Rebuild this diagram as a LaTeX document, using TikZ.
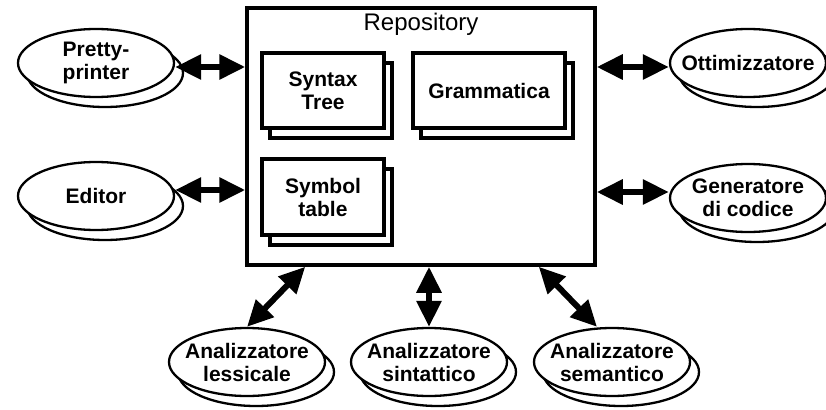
\documentclass[tikz,border=0pt]{standalone}
\usepackage{fontspec}
\setmainfont{Liberation Sans}
\usetikzlibrary{shapes.geometric,arrows.meta,shadows}
\begin{document}
\begin{tikzpicture}[x=1pt,y=-1pt,
  lbl/.style={font=\bfseries\fontsize{21}{23}\selectfont, align=center},
  store/.style={lbl, draw, line width=3.5pt, fill=white, rectangle, inner sep=0pt,
    general shadow={draw, fill=white, line width=3.5pt, shadow xshift=8pt, shadow yshift=-10pt}},
  tool/.style={lbl, draw, line width=2.3pt, fill=white, ellipse, inner xsep=-12pt, inner ysep=-8pt,
    minimum width=156pt, minimum height=68pt,
    general shadow={draw, fill=white, line width=2.3pt, shadow xshift=9pt, shadow yshift=-10pt}},
  biarrow/.style={line width=6pt, {Triangle[length=26pt,width=24pt]}-{Triangle[length=26pt,width=24pt]}}
]
\useasboundingbox (0,0) rectangle (826,409);

% central repository
\node[draw, line width=3.5pt, minimum width=348pt, minimum height=257pt, inner sep=0pt] (repo) at (421,136.5) {};
\node[font=\fontsize{24}{28}\selectfont] (repotitle) at (421,24) {Repository};

% stored data structures
\node[store, minimum width=122pt, minimum height=75pt] (st) at (323,90.5) {Syntax\\Tree};
\node[store, minimum width=152pt, minimum height=75pt] (gr) at (489,90.5) {Grammatica};
\node[store, minimum width=122pt, minimum height=76pt] (sy) at (323,197) {Symbol\\table};

% tools around the repository
\node[tool] (pp) at (96,63) {Pretty-\\printer};
\node[tool] (ed) at (96,196) {Editor};
\node[tool] (ot) at (748,63) {Ottimizzatore};
\node[tool] (ge) at (748,198) {Generatore\\di codice};
\node[tool] (al) at (247,362) {Analizzatore\\lessicale};
\node[tool] (as) at (429,362) {Analizzatore\\sintattico};
\node[tool] (se) at (612,362) {Analizzatore\\semantico};

% connections
\draw[biarrow] (pp.east |- 0,67) -- (repo.west |- 0,67);
\draw[biarrow] (ed.east |- 0,190) -- (repo.west |- 0,190);
\draw[biarrow] (ot.west |- 0,67) -- (repo.east |- 0,67);
\draw[biarrow] (ge.west |- 0,192) -- (repo.east |- 0,192);
\draw[biarrow] (al.north) -- ([xshift=60pt]repo.south west);
\draw[biarrow] (as.north) -- (repo.south -| as.north);
\draw[biarrow] ([xshift=-15pt]se.north) -- ([xshift=-58pt]repo.south east);
\end{tikzpicture}
\end{document}
